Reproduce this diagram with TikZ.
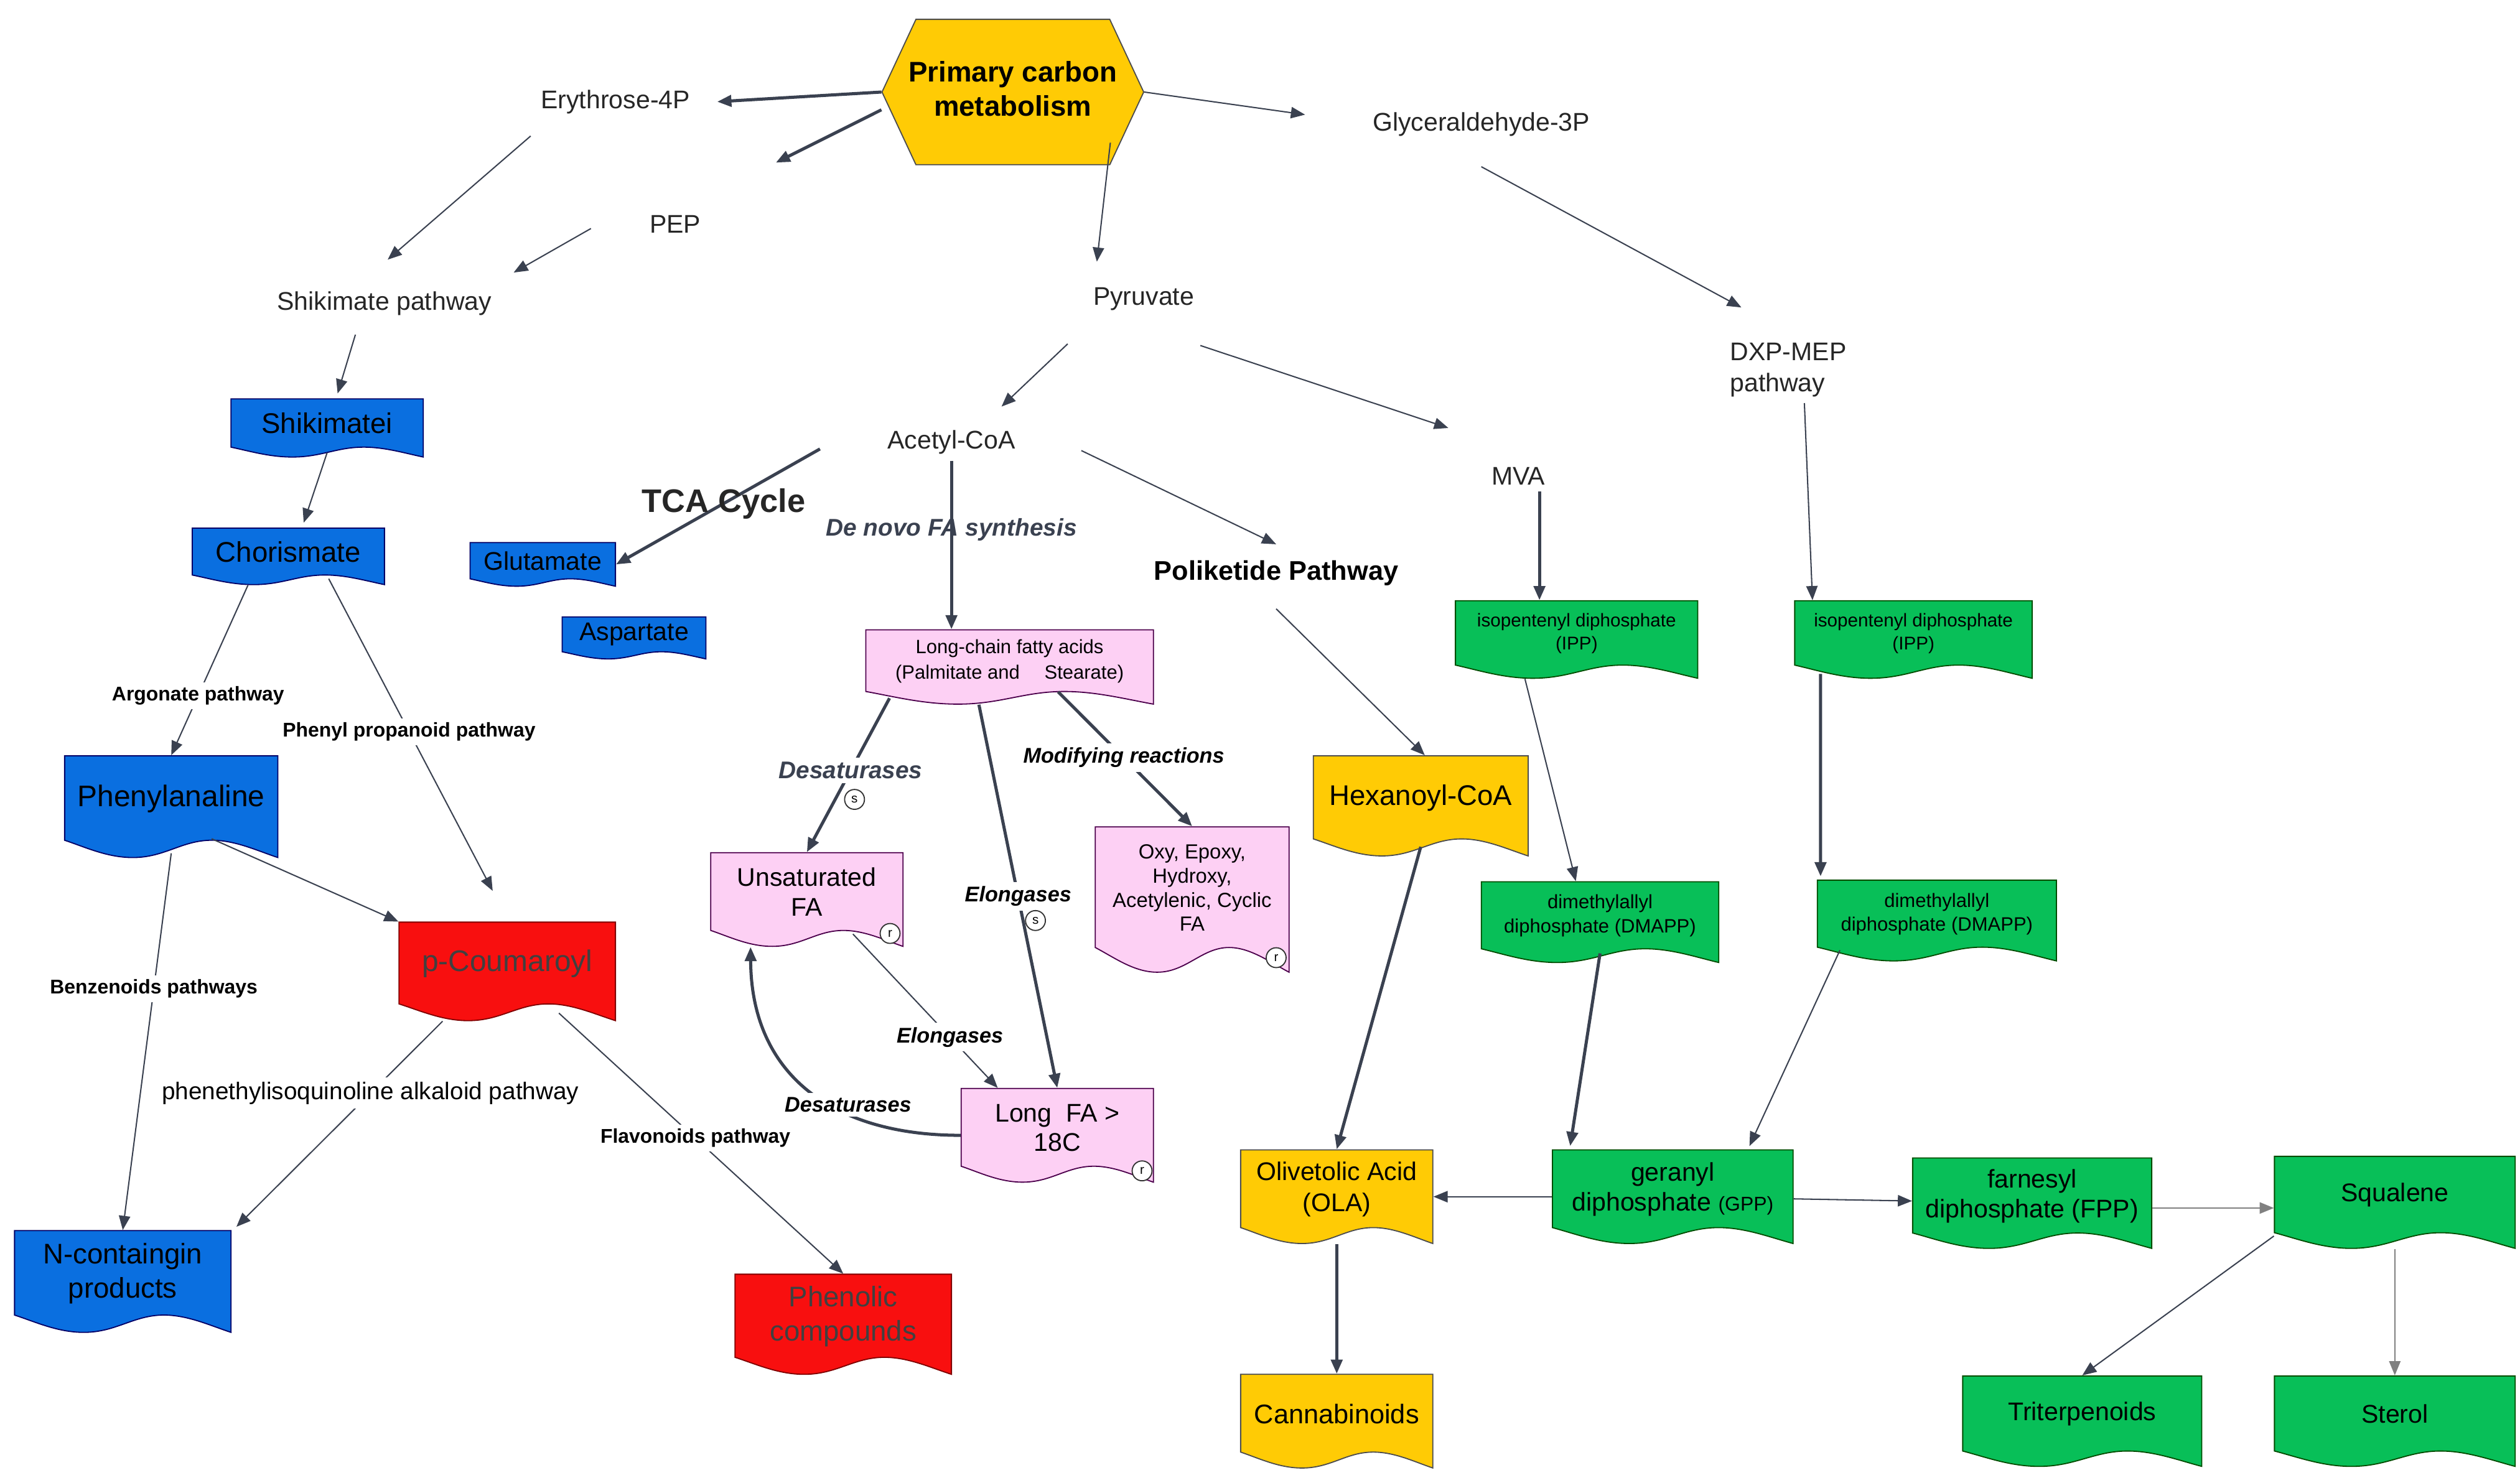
\documentclass[tikz,border=0pt]{standalone}
\usepackage{fontspec}
\setmainfont{Liberation Sans}
\usetikzlibrary{arrows.meta}
\usetikzlibrary{fit}

\definecolor{lnk}{HTML}{3A4150}
\definecolor{cblue}{HTML}{0A6FE0}
\definecolor{cred}{HTML}{F80F0F}
\definecolor{cyel}{HTML}{FFCB05}
\definecolor{cgreen}{HTML}{08BF58}
\definecolor{cpink}{HTML}{FDD0F4}

\tikzset{
	lnk/.style={draw=lnk, line width=0.45pt, -{Triangle[length=5pt,width=4pt]}},
	bold lnk/.style={lnk, line width=1.1pt},
	txt/.style={font=\fontsize{9}{11}\selectfont, text=black!85, inner sep=2pt},
	lbl/.style={font=\fontsize{7}{8.5}\selectfont\bfseries, fill=white, inner sep=1.5pt},
	ilbl/.style={lbl, font=\fontsize{7.5}{9}\selectfont\bfseries\itshape},
	tag/.style={circle, draw=black!80, fill=white, inner sep=0pt, minimum size=7pt, font=\fontsize{4.5}{5}\selectfont}
}

% document shape: name, x1, y1, x2, y2, fill, border, font, text
\newcommand\docbox[9]{%
	\pgfmathsetmacro\bw{#4-#2}\pgfmathsetmacro\bh{#5-#3}
	\filldraw[fill=#6, draw=#7, line width=0.4pt] (#2,#3) -- (#4,#3) -- (#4,#5)
	.. controls ({#2+0.9*\bw},{#3+0.93*\bh}) and ({#2+0.8*\bw},{#3+0.83*\bh}) .. ({#2+0.69*\bw},{#3+0.83*\bh})
	.. controls ({#2+0.55*\bw},{#3+0.83*\bh}) and ({#2+0.47*\bw},{#3+\bh}) .. ({#2+0.32*\bw},{#3+\bh})
	.. controls ({#2+0.2*\bw},{#3+\bh}) and ({#2+0.1*\bw},{#3+0.9*\bh}) .. (#2,{#3+0.83*\bh}) -- cycle;
	\node[fit={(#2,#3)(#4,#5)}, inner sep=0pt] (#1) {};
	\node[align=center, font=#8, inner sep=0pt] at ({(#2+#4)/2},{#3+0.42*\bh}) {#9};
}

\begin{document}
\begin{tikzpicture}[x=0.02cm,y=-0.02cm]
	\useasboundingbox (0,0) rectangle (1560,918);
	
	% primary metabolism
	\filldraw[fill=cyel, draw=black!70, line width=0.4pt] (546,57) -- (567,12) -- (687,12) -- (708,57) -- (687,102) -- (567,102) -- cycle;
	\node[fit={(546,12)(708,102)}, inner sep=0pt] (hex) {};
	\node[align=center, font=\fontsize{10}{12}\selectfont\bfseries] at (627,55) {Primary carbon\\metabolism};
	
	\node[txt] (ery) at (381,63) {Erythrose-4P};
	\node[txt] (pep) at (418,139) {PEP};
	\node[txt] (gly) at (917,77) {Glyceraldehyde-3P};
	\node[txt] (shp) at (238,188) {Shikimate pathway};
	\node[txt] (pyr) at (708,185) {Pyruvate};
	\node[txt, align=left] (dxp) at (1107,229) {DXP-MEP\\pathway};
	\node[txt] (aco) at (589,274) {Acetyl-CoA};
	\node[txt] (mva) at (940,295) {MVA};
	\node[font=\fontsize{8.5}{10}\selectfont\bfseries\itshape, text=lnk, fill=white, inner sep=1pt] (dnv) at (589,328) {De novo FA synthesis};
	\node[font=\fontsize{9.5}{11}\selectfont\bfseries] (pol) at (790,355) {Poliketide Pathway};
	
	% shikimate branch
	\docbox{shi}{143}{247}{262}{283}{cblue}{blue!40!black}{\fontsize{10}{12}\selectfont}{Shikimatei}
	\docbox{cho}{119}{327}{238}{362}{cblue}{blue!40!black}{\fontsize{10}{12}\selectfont}{Chorismate}
	\docbox{glu}{291}{336}{381}{363}{cblue}{blue!40!black}{\fontsize{9}{11}\selectfont}{Glutamate}
	\docbox{asp}{348}{382}{437}{408}{cblue}{blue!40!black}{\fontsize{9}{11}\selectfont}{Aspartate}
	\docbox{phe}{40}{468}{172}{531}{cblue}{blue!40!black}{\fontsize{10.5}{12}\selectfont}{Phenylanaline}
	\docbox{cou}{247}{571}{381}{632}{cred}{red!50!black}{\fontsize{10.5}{12}\selectfont\color{black!75}}{p-Coumaroyl}
	\docbox{nco}{9}{762}{143}{825}{cblue}{blue!40!black}{\fontsize{10}{12}\selectfont}{N-containgin\\products}
	\docbox{phc}{455}{789}{589}{851}{cred}{red!50!black}{\fontsize{10}{12}\selectfont\color{black!75}}{Phenolic\\compounds}
	
	% fatty acids
	\docbox{lcf}{536}{390}{714}{436}{cpink}{violet!60!black}{\fontsize{6.8}{9}\selectfont}{Long-chain fatty acids\\(Palmitate and \quad Stearate)}
	\docbox{ufa}{440}{528}{559}{586}{cpink}{violet!60!black}{\fontsize{9}{10.5}\selectfont}{Unsaturated\\FA}
	\docbox{oxy}{678}{512}{798}{602}{cpink}{violet!60!black}{\fontsize{7.2}{8.5}\selectfont}{Oxy, Epoxy,\\Hydroxy,\\Acetylenic, Cyclic\\FA}
	\docbox{lfa}{595}{674}{714}{732}{cpink}{violet!60!black}{\fontsize{9}{10.5}\selectfont}{Long \ FA >\\18C}
	
	% cannabinoids
	\docbox{hex2}{813}{468}{946}{530}{cyel}{black!70}{\fontsize{10}{12}\selectfont}{Hexanoyl-CoA}
	\docbox{ola}{768}{712}{887}{770}{cyel}{black!70}{\fontsize{9}{11}\selectfont}{Olivetolic Acid\\(OLA)}
	\docbox{can}{768}{851}{887}{909}{cyel}{black!70}{\fontsize{9.5}{11}\selectfont}{Cannabinoids}
	
	% terpenoids
	\docbox{ipa}{901}{372}{1051}{420}{cgreen}{green!30!black}{\fontsize{6.5}{8}\selectfont}{isopentenyl diphosphate\\(IPP)}
	\docbox{ipb}{1111}{372}{1258}{420}{cgreen}{green!30!black}{\fontsize{6.5}{8}\selectfont}{isopentenyl diphosphate\\(IPP)}
	\docbox{dma}{917}{546}{1064}{596}{cgreen}{green!30!black}{\fontsize{6.8}{8.5}\selectfont}{dimethylallyl\\diphosphate (DMAPP)}
	\docbox{dmb}{1125}{545}{1273}{595}{cgreen}{green!30!black}{\fontsize{6.8}{8.5}\selectfont}{dimethylallyl\\diphosphate (DMAPP)}
	\docbox{gpp}{961}{712}{1110}{770}{cgreen}{green!30!black}{\fontsize{9}{10.5}\selectfont}{geranyl\\diphosphate {\fontsize{7}{8}\selectfont(GPP)}}
	\docbox{fpp}{1184}{717}{1332}{773}{cgreen}{green!30!black}{\fontsize{9}{10.5}\selectfont}{farnesyl\\diphosphate (FPP)}
	\docbox{squ}{1408}{716}{1557}{773}{cgreen}{green!30!black}{\fontsize{9}{11}\selectfont}{Squalene}
	\docbox{tri}{1215}{852}{1363}{908}{cgreen}{green!30!black}{\fontsize{9}{11}\selectfont}{Triterpenoids}
	\docbox{ste}{1408}{852}{1557}{908}{cgreen}{green!30!black}{\fontsize{9}{11}\selectfont}{Sterol}
	
	% connectors
	\draw[bold lnk] (hex.west) -- ([xshift=0.26cm]ery.east);
	\draw[bold lnk] ([yshift=-0.22cm]hex.west) -- ([xshift=1.64cm,yshift=0.58cm]pep.north west);
	\draw[lnk] (hex.east) -- ([xshift=-0.76cm,yshift=0.12cm]gly.west);
	\draw[lnk] ([xshift=-0.42cm,yshift=0.28cm]hex.south east) -- ([xshift=-0.58cm,yshift=0.24cm]pyr.north);
	\draw[lnk] ([xshift=-0.05cm,yshift=-0.2cm]ery.south west) -- ([xshift=0.04cm,yshift=0.32cm]shp.north);
	\draw[lnk] ([xshift=-0.65cm,yshift=-0.05cm]pep.west) -- ([xshift=1.6cm,yshift=0.16cm]shp.north);
	\draw[lnk] ([xshift=-0.36cm,yshift=-0.16cm]shp.south) -- ([xshift=0.13cm,yshift=0.06cm]shi.north);
	\draw[lnk] ([yshift=0.06cm]shi.south) -- ([xshift=0.19cm,yshift=0.06cm]cho.north);
	\draw[lnk] ([xshift=-0.5cm]cho.south) -- (phe.north) node[lbl, pos=0.65] {Argonate pathway};
	\draw[lnk] ([xshift=0.5cm,yshift=0.08cm]cho.south) -- ([xshift=-0.18cm,yshift=0.38cm]cou.north) node[lbl, pos=0.49] {Phenyl propanoid pathway};
	\draw[lnk] ([xshift=0.5cm,yshift=0.24cm]phe.south) -- (cou.north west);
	\draw[lnk] ([yshift=0.06cm]phe.south) -- (nco.north) node[lbl, pos=0.36] {Benzenoids pathways};
	\draw[lnk] ([xshift=-0.8cm]cou.south) -- ([xshift=0.06cm,yshift=0.04cm]nco.north east) node[fill=white, inner sep=1.5pt, pos=0.35, font=\fontsize{8.5}{10}\selectfont] {phenethylisoquinoline alkaloid pathway};
	\draw[lnk] ([xshift=0.64cm,yshift=0.1cm]cou.south) -- (phc.north) node[lbl, pos=0.48] {Flavonoids pathway};
	\draw[lnk] ([yshift=-0.3cm]gly.south) -- ([xshift=-0.58cm,yshift=0.36cm]dxp.north);
	\draw[lnk] ([xshift=-0.24cm,yshift=-0.34cm]pyr.south west) -- ([xshift=0.62cm,yshift=0.22cm]aco.north);
	\draw[lnk] ([yshift=-0.36cm]pyr.south east) -- ([xshift=-0.46cm,yshift=0.6cm]mva.west);
	\draw[bold lnk] ([xshift=-0.76cm,yshift=-0.08cm]aco.west) -- (glu.east);
	\draw[bold lnk] (aco.south) -- (aco.south |- lcf.north);
	\draw[lnk] ([xshift=0.74cm,yshift=-0.1cm]aco.east) -- ([yshift=0.08cm]pol.north);
	\draw[lnk] ([yshift=-0.16cm]pol.south) -- ([xshift=0.05cm]hex2.north);
	\draw[bold lnk] ([xshift=0.26cm]mva.south) -- ([xshift=0.26cm]mva.south |- ipa.north);
	\draw[lnk] ([xshift=0.2cm]dxp.south) -- ([xshift=-1.25cm]ipb.north);
	\draw[lnk] ([xshift=-0.64cm]ipa.south) -- ([xshift=-0.3cm]dma.north);
	\draw[bold lnk] ([xshift=-1.15cm,yshift=0.06cm]ipb.south) -- ([xshift=-1.44cm,yshift=0.04cm]dmb.north);
	\draw[bold lnk] ([yshift=0.12cm]dma.south) -- ([xshift=-1.27cm,yshift=0.04cm]gpp.north);
	\draw[lnk] ([xshift=-1.2cm,yshift=0.14cm]dmb.south) -- ([xshift=0.95cm,yshift=0.04cm]gpp.north);
	\draw[lnk] (gpp) -- (ola);
	\draw[lnk] (gpp) -- (fpp);
	\draw[lnk, draw=black!50] ([yshift=-0.06cm]fpp.east) -- ([yshift=-0.06cm]fpp.east -| squ.west);
	\draw[lnk] ([yshift=0.16cm]squ.south west) -- (tri.north);
	\draw[lnk, draw=black!50] (squ) -- (ste);
	\draw[bold lnk] ([yshift=0.12cm]hex2.south) -- (ola.north);
	\draw[bold lnk] (ola) -- (can);
	\draw[bold lnk] ([xshift=0.3cm,yshift=0.08cm]lcf.south west) -- (ufa.north) node[ilbl, pos=0.47, font=\fontsize{8.5}{10}\selectfont\bfseries\itshape, text=lnk] {Desaturases};
	\draw[bold lnk] ([xshift=-0.38cm]lcf.south) -- (lfa.north) node[ilbl, pos=0.5] {Elongases};
	\draw[bold lnk] ([xshift=0.6cm,yshift=0.16cm]lcf.south) -- (oxy.north) node[ilbl, pos=0.49] {Modifying reactions};
	\draw[lnk] ([xshift=0.57cm,yshift=0.16cm]ufa.south) -- ([xshift=0.46cm]lfa.north west) node[ilbl, pos=0.67] {Elongases};
	\draw[bold lnk] (lfa.west) .. controls (515,703) and (465,665) .. ([xshift=0.5cm]ufa.south west);
	\node[ilbl] (dsl) at (525,684) {Desaturases};
	\node[font=\fontsize{11.5}{13}\selectfont\bfseries, text=black!85, inner sep=1pt] (tca) at (448,312) {TCA Cycle};
	
	% markers
	\node[tag] (ms1) at (529,495) {s};
	\node[tag] (ms2) at (641,570) {s};
	\node[tag] (mr1) at (551,578) {r};
	\node[tag] (mr2) at (790,593) {r};
	\node[tag] (mr3) at (707,725) {r};
\end{tikzpicture}
\end{document}
